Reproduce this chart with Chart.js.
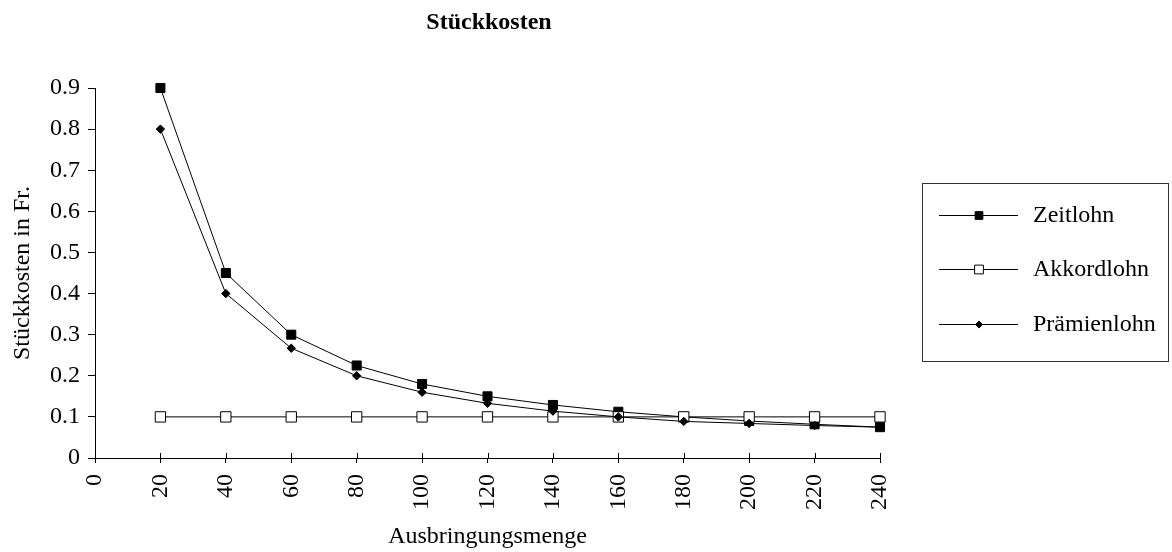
<!DOCTYPE html>
<html>
<head>
<meta charset="utf-8">
<script src="https://cdn.jsdelivr.net/npm/chart.js@4.4.1/dist/chart.umd.min.js"></script>
<style>
  html, body { margin: 0; padding: 0; background: #fff; }
  #wrap { width: 1172px; height: 552px; }
</style>
</head>
<body>
<div id="wrap"><canvas id="c" width="1172" height="552"></canvas></div>
<script>
// Output quantities and unit costs per wage system
const menge = [20, 40, 60, 80, 100, 120, 140, 160, 180, 200, 220, 240];
const zeitlohn = [0.9, 0.45, 0.3, 0.225, 0.18, 0.15, 0.129, 0.1125, 0.1, 0.09, 0.082, 0.075];
const akkordlohn = [0.1, 0.1, 0.1, 0.1, 0.1, 0.1, 0.1, 0.1, 0.1, 0.1, 0.1, 0.1];
const praemienlohn = [0.8, 0.4, 0.267, 0.2, 0.16, 0.133, 0.114, 0.1, 0.089, 0.084, 0.079, 0.075];
const seriesNames = ['Zeitlohn', 'Akkordlohn', 'Prämienlohn'];
const chartTitle = 'Stückkosten';
const xTitle = 'Ausbringungsmenge';
const yTitle = 'Stückkosten in Fr.';

const FONT = '"Liberation Serif", "Times New Roman", serif';
const FS = 24;

const toPoints = (vals) => menge.map((m, i) => ({ x: m, y: vals[i] }));

const datasets = [
  { label: seriesNames[0], data: toPoints(zeitlohn), pointStyle: 'rect', pointRadius: 6.4,
    pointBackgroundColor: '#000', pointBorderColor: '#000', pointBorderWidth: 1, order: 2 },
  { label: seriesNames[1], data: toPoints(akkordlohn), pointStyle: 'rect', pointRadius: 7.3,
    pointBackgroundColor: '#fff', pointBorderColor: '#000', pointBorderWidth: 1, order: 1 },
  { label: seriesNames[2], data: toPoints(praemienlohn), pointStyle: 'rectRot', pointRadius: 4.2,
    pointBackgroundColor: '#000', pointBorderColor: '#000', pointBorderWidth: 1, order: 0 }
].map(d => Object.assign({ borderColor: '#000', borderWidth: 1, tension: 0, fill: false,
  clip: false, pointHoverRadius: d.pointRadius }, d));

// Title, inward half of x ticks and the framed legend
const decor = {
  id: 'decor',
  afterDraw(chart) {
    const ctx = chart.ctx;
    const xs = chart.scales.x;
    const area = chart.chartArea;
    ctx.save();
    // title
    ctx.fillStyle = '#000';
    ctx.font = 'bold ' + FS + 'px ' + FONT;
    ctx.textAlign = 'center';
    ctx.textBaseline = 'middle';
    ctx.fillText(chartTitle, 489, 23);
    // x ticks crossing the axis line
    ctx.strokeStyle = '#000';
    ctx.lineWidth = 1;
    xs.ticks.forEach(t => {
      const px = Math.round(xs.getPixelForValue(t.value)) + 0.5;
      ctx.beginPath();
      ctx.moveTo(px, area.bottom);
      ctx.lineTo(px, area.bottom - 5);
      ctx.stroke();
    });
    // legend
    ctx.strokeStyle = '#333';
    ctx.strokeRect(922.5, 183.5, 246, 178);
    const rows = [215, 269, 324];
    ctx.font = FS + 'px ' + FONT;
    ctx.textAlign = 'left';
    chart.data.datasets.forEach((ds, i) => {
      const y = rows[i] + 0.5;
      ctx.strokeStyle = '#000';
      ctx.beginPath();
      ctx.moveTo(939, y);
      ctx.lineTo(1018, y);
      ctx.stroke();
      ctx.fillStyle = ds.pointBackgroundColor;
      ctx.strokeStyle = ds.pointBorderColor;
      Chart.helpers.drawPoint(ctx, {
        pointStyle: ds.pointStyle, radius: ds.pointRadius * 0.85, rotation: 0, borderWidth: 1
      }, 979, y);
      ctx.fillStyle = '#000';
      ctx.fillText(ds.label, 1033, rows[i] + 1);
    });
    ctx.restore();
  }
};

new Chart(document.getElementById('c'), {
  type: 'line',
  data: { datasets },
  options: {
    responsive: false,
    animation: false,
    events: [],
    layout: { padding: { left: 0, right: 292, top: 88, bottom: 0 } },
    plugins: { legend: { display: false }, title: { display: false }, tooltip: { enabled: false } },
    scales: {
      x: {
        type: 'linear', min: 0, max: 240,
        afterFit(s) { s.height = 94; },
        ticks: { stepSize: 20, minRotation: 90, maxRotation: 90, color: '#000', padding: 11,
          font: { family: FONT, size: FS } },
        grid: { drawOnChartArea: false, tickLength: 5, color: '#000', tickColor: '#000' },
        border: { color: '#000', width: 1 },
        title: { display: true, text: xTitle, color: '#000', font: { family: FONT, size: FS },
          padding: { top: 0, bottom: 1 } }
      },
      y: {
        min: 0, max: 0.9,
        afterFit(s) { s.width = 95; },
        ticks: { stepSize: 0.1, color: '#000', padding: 8, font: { family: FONT, size: FS },
          callback: v => (Math.abs(v) < 1e-9 ? '0' : (Math.round(v * 10) / 10).toString()) },
        grid: { drawOnChartArea: false, tickLength: 7, color: '#000', tickColor: '#000' },
        border: { color: '#000', width: 1 },
        title: { display: true, text: yTitle, color: '#000', font: { family: FONT, size: FS },
          padding: { top: 8, bottom: 0 } }
      }
    }
  },
  plugins: [decor]
});
</script>
</body>
</html>
